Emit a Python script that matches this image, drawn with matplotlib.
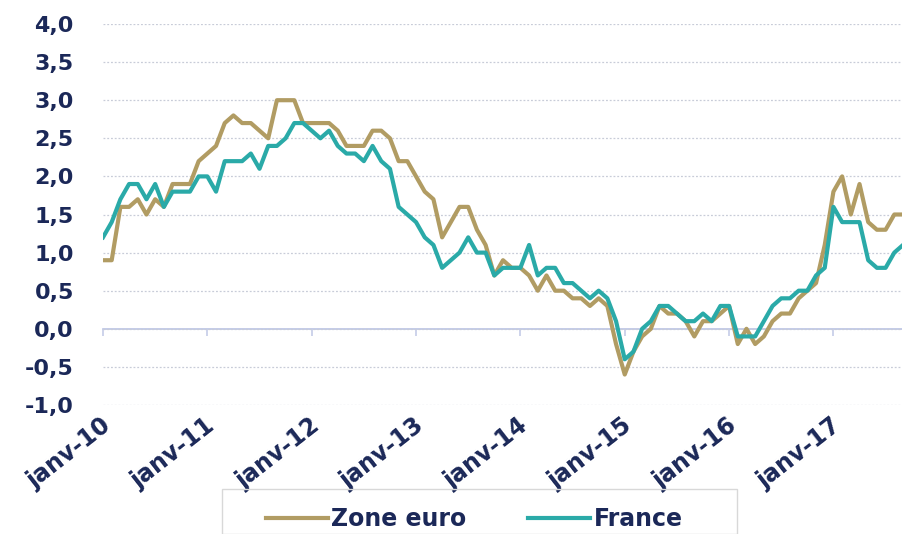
import matplotlib
matplotlib.use("Agg")
import matplotlib.pyplot as plt
import matplotlib.transforms as mtrans
from matplotlib.patches import Rectangle
import numpy as np

zone_euro = [
    0.9, 0.9, 1.6, 1.6, 1.7, 1.5, 1.7, 1.6, 1.9, 1.9, 1.9, 2.2,   # 2010
    2.3, 2.4, 2.7, 2.8, 2.7, 2.7, 2.6, 2.5, 3.0, 3.0, 3.0, 2.7,   # 2011
    2.7, 2.7, 2.7, 2.6, 2.4, 2.4, 2.4, 2.6, 2.6, 2.5, 2.2, 2.2,   # 2012
    2.0, 1.8, 1.7, 1.2, 1.4, 1.6, 1.6, 1.3, 1.1, 0.7, 0.9, 0.8,   # 2013
    0.8, 0.7, 0.5, 0.7, 0.5, 0.5, 0.4, 0.4, 0.3, 0.4, 0.3, -0.2,  # 2014
    -0.6, -0.3, -0.1, 0.0, 0.3, 0.2, 0.2, 0.1, -0.1, 0.1, 0.1, 0.2,  # 2015
    0.3, -0.2, 0.0, -0.2, -0.1, 0.1, 0.2, 0.2, 0.4, 0.5, 0.6, 1.1,  # 2016
    1.8, 2.0, 1.5, 1.9, 1.4, 1.3, 1.3, 1.5, 1.5,                  # 2017
]
france = [
    1.2, 1.4, 1.7, 1.9, 1.9, 1.7, 1.9, 1.6, 1.8, 1.8, 1.8, 2.0,   # 2010
    2.0, 1.8, 2.2, 2.2, 2.2, 2.3, 2.1, 2.4, 2.4, 2.5, 2.7, 2.7,   # 2011
    2.6, 2.5, 2.6, 2.4, 2.3, 2.3, 2.2, 2.4, 2.2, 2.1, 1.6, 1.5,   # 2012
    1.4, 1.2, 1.1, 0.8, 0.9, 1.0, 1.2, 1.0, 1.0, 0.7, 0.8, 0.8,   # 2013
    0.8, 1.1, 0.7, 0.8, 0.8, 0.6, 0.6, 0.5, 0.4, 0.5, 0.4, 0.1,   # 2014
    -0.4, -0.3, 0.0, 0.1, 0.3, 0.3, 0.2, 0.1, 0.1, 0.2, 0.1, 0.3,  # 2015
    0.3, -0.1, -0.1, -0.1, 0.1, 0.3, 0.4, 0.4, 0.5, 0.5, 0.7, 0.8,  # 2016
    1.6, 1.4, 1.4, 1.4, 0.9, 0.8, 0.8, 1.0, 1.1,                  # 2017
]
tick_labels = ["janv-10", "janv-11", "janv-12", "janv-13",
               "janv-14", "janv-15", "janv-16", "janv-17"]
y_ticks = [-1.0, -0.5, 0.0, 0.5, 1.0, 1.5, 2.0, 2.5, 3.0, 3.5, 4.0]

navy = "#1B2858"
tan = "#B19C63"
teal = "#2AAAA8"

plt.rcParams["font.family"] = ["DejaVu Sans"]

W, H = 903, 534
fig = plt.figure(figsize=(W / 100, H / 100), dpi=100)
ax = fig.add_axes([103 / W, (H - 405) / H, (903 - 103) / W, (405 - 24) / H])

x = np.arange(len(zone_euro))
ax.plot(x, zone_euro, color=tan, lw=3.0, label="Zone euro", solid_joinstyle="round")
ax.plot(x, france, color=teal, lw=3.0, label="France", solid_joinstyle="round")

ymin, ymax = -1.0, 4.0
ax.set_ylim(ymin, ymax)
ax.set_xlim(0, len(zone_euro) - 1)

ax.set_yticks(y_ticks)
ax.set_yticklabels([f"{v:.1f}".replace(".", ",") for v in y_ticks])
ax.tick_params(axis="y", length=0, pad=21, labelsize=16, labelcolor=navy)
for lab in ax.get_yticklabels():
    lab.set_fontweight("bold")

ax.yaxis.grid(True, color="#C8CCD8", linestyle=(0, (1.5, 1.5)), lw=0.9)
for s in ax.spines.values():
    s.set_visible(False)

xt = np.arange(0, len(zone_euro), 12)
ax.set_xticks(xt)
ax.set_xticklabels(tick_labels, rotation=38, ha="right", va="center",
                   rotation_mode="anchor", fontsize=17, fontweight="bold",
                   color=navy)
ax.tick_params(axis="x", length=0, pad=13)
shift = mtrans.ScaledTranslation(5 / 100, 0, fig.dpi_scale_trans)
for lab in ax.get_xticklabels():
    lab.set_transform(lab.get_transform() + shift)

# zero axis line with tick marks
zero_loc = (0 - ymin) / (ymax - ymin)
sec = ax.secondary_xaxis(zero_loc)
sec.set_xticks(xt)
sec.tick_params(axis="x", length=5, width=1.2, color="#C5CCE8", labelbottom=False)
sec.spines["bottom"].set_color("#C5CCE8")
sec.spines["bottom"].set_linewidth(1.3)
ax.axhline(0, color="#C5CCE8", lw=1.3, zorder=0)

leg = fig.legend(loc="center", bbox_to_anchor=(474 / W, 1 - 519 / H),
                 ncol=2, frameon=False, handlelength=2.63,
                 handletextpad=0.15, columnspacing=2.6, borderpad=0.0,
                 prop={"weight": "bold", "size": 17})
for t in leg.get_texts():
    t.set_color(navy)
for h in leg.legend_handles:
    h.set_linewidth(3.0)

frame = Rectangle((222 / W, 0), (737 - 222) / W, (H - 500) / H + 0.02,
                  transform=fig.transFigure, facecolor="none",
                  edgecolor="#D8D8D8", lw=1.0, clip_on=False)
fig.add_artist(frame)

fig.savefig("out.png", dpi=100)
